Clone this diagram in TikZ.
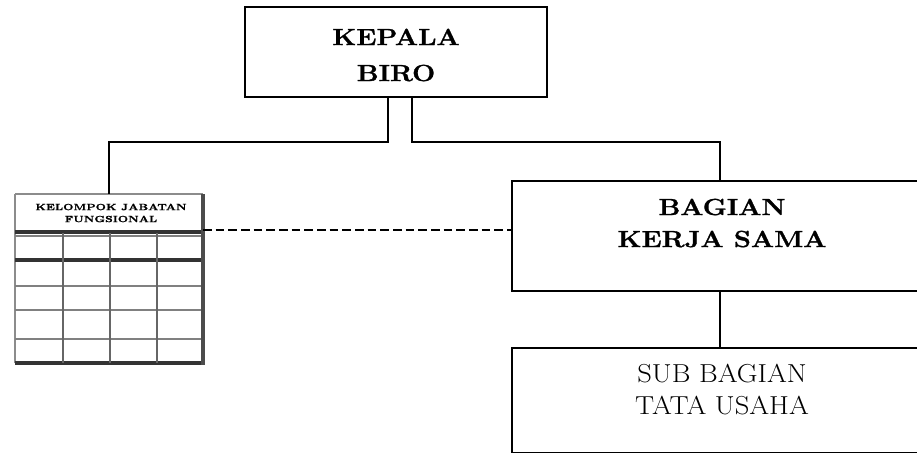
\documentclass[tikz,border=0pt]{standalone}
\usepackage{amsmath}
\usepackage{fontspec}
\newfontfamily\headfont{Latin Modern Roman}[FakeStretch=1.17, FakeBold=1.2]
\newfontfamily\unitfont{Latin Modern Roman}[FakeStretch=1.1]
\begin{document}
\begin{tikzpicture}[x=0.75pt,y=-0.75pt,
	box/.style={draw, line width=1.6pt, inner sep=0pt},
	conn/.style={line width=2pt},
	head/.style={font=\headfont\bfseries\fontsize{17.5}{27}\selectfont, align=center},
	unit/.style={font=\unitfont\fontsize{19.5}{24}\selectfont, align=center},
	thickrow/.style={line width=2.4pt, black!80},
	thinrow/.style={line width=1.3pt, black!50}]
	\useasboundingbox (0,0) rectangle (917,453);
	\clip (0,0) rectangle (917,453);
	\node at (396,52) [box, minimum width=226.5pt, minimum height=67.5pt] (kb) {};
	\node at (396,55) [head] (kbt) {KEPALA\\BIRO};
	\node at (720,236) [box, minimum width=312pt, minimum height=82.5pt] (bks) {};
	\node at (722,223) [head, font=\headfont\bfseries\fontsize{17.5}{24}\selectfont] (bkst) {BAGIAN\\KERJA SAMA};
	\node at (720,400.5) [box, minimum width=312pt, minimum height=78.75pt] (sbtu) {};
	\node at (722,390) [unit] (sbtut) {SUB BAGIAN\\TATA USAHA};
	\node at (109,279.5) [minimum width=141pt, minimum height=128.25pt, inner sep=0pt] (tbl) {};
	\node at (111,213) [font=\headfont\bfseries\fontsize{6.8}{9}\selectfont, align=center] (tblt) {KELOMPOK JABATAN\\FUNGSIONAL};
	\coordinate (kbl) at (388,97);
	\coordinate (kbr) at (412,97);
	\coordinate (dl) at (203,230);
	
	% table
	\draw [line width=1pt, black!45] (15,194) -- (203,194);
	\draw [line width=1pt, black!45] (15,194) -- (15,363);
	\draw [thickrow] (15,232) -- (203,232);
	\draw [thickrow] (15,260) -- (203,260);
	\draw [thickrow] (15,363) -- (203,363);
	\draw [thinrow] (15,236) -- (203,236);
	\draw [thinrow] (15,286) -- (203,286);
	\draw [thinrow] (15,310) -- (203,310);
	\draw [thinrow] (15,339) -- (203,339);
	\foreach \x in {63,110,157}
		\draw [line width=1.6pt, black!60] (\x,233) -- (\x,363);
	\draw [line width=2.8pt, black!70] (203,194) -- (203,365);
	
	\draw [conn] (kbl) -- ++(0,45) -| (tbl.north);
	\draw [conn] (kbr) -- ++(0,45) -| (bks.north);
	\draw [conn] (bks.south) -- (sbtu.north);
	\draw [line width=1.4pt, dash pattern=on 6.5pt off 3pt] (dl) -- (dl -| bks.west);
\end{tikzpicture}
\end{document}
